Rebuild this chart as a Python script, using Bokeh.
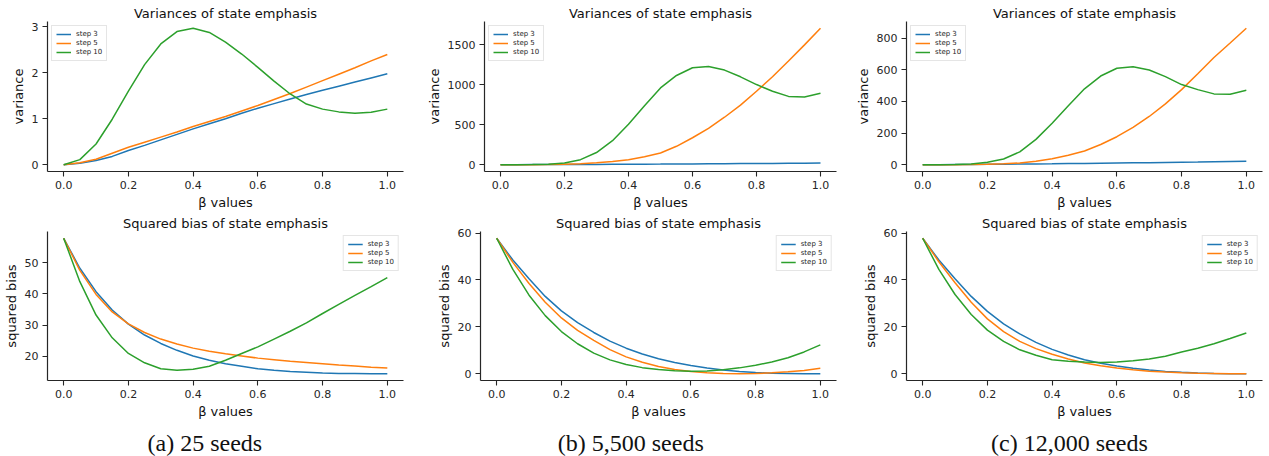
from bokeh.plotting import figure
from bokeh.layouts import column, row
from bokeh.models import Range1d, FixedTicker, NumeralTickFormatter
from bokeh.embed import file_html
from bokeh.resources import INLINE

# ---------------- data ----------------
beta = [0.0, 0.05, 0.1, 0.15, 0.2, 0.25, 0.3, 0.35, 0.4, 0.45, 0.5,
        0.55, 0.6, 0.65, 0.7, 0.75, 0.8, 0.85, 0.9, 0.95, 1.0]
series_names = ["step 3", "step 5", "step 10"]
captions = ["(a) 25 seeds", "(b) 5,500 seeds", "(c) 12,000 seeds"]

# variances, 25 seeds
var25_s3 = [0.0, 0.03, 0.09, 0.18, 0.31, 0.42, 0.54, 0.66, 0.78, 0.89, 1.0,
            1.12, 1.23, 1.33, 1.43, 1.53, 1.62, 1.71, 1.8, 1.89, 1.98]
var25_s5 = [0.0, 0.04, 0.12, 0.25, 0.38, 0.49, 0.6, 0.71, 0.83, 0.94, 1.05,
            1.17, 1.29, 1.42, 1.55, 1.69, 1.83, 1.97, 2.11, 2.26, 2.4]
var25_s10 = [0.0, 0.11, 0.45, 0.99, 1.6, 2.18, 2.63, 2.9, 2.97, 2.88, 2.67,
             2.41, 2.12, 1.82, 1.54, 1.32, 1.21, 1.15, 1.12, 1.14, 1.21]
# variances, 5,500 seeds
var5500_s3 = [0.0, 0.3, 0.8, 1.3, 2.0, 2.7, 3.5, 4.4, 5.3, 6.3, 7.3,
              8.4, 9.5, 10.7, 12.0, 13.3, 14.7, 16.1, 17.6, 19.2, 21.0]
var5500_s5 = [0.0, 0.0, 0.5, 2.0, 5.0, 12.0, 25.0, 40.0, 63.0, 100.0, 147.0,
              230.0, 337.0, 455.0, 594.0, 745.0, 919.0, 1100.0, 1298.0, 1500.0, 1707.0]
var5500_s10 = [0.0, 0.0, 1.0, 5.0, 20.0, 63.0, 152.0, 300.0, 506.0, 738.0, 961.0,
               1117.0, 1214.0, 1230.0, 1184.0, 1100.0, 1003.0, 919.0, 855.0, 847.0, 893.0]
# variances, 12,000 seeds
var12k_s3 = [0.0, 0.3, 0.8, 1.4, 2.1, 2.9, 3.8, 4.8, 5.8, 6.9, 8.0,
             9.2, 10.4, 11.7, 13.0, 14.4, 15.8, 17.3, 18.9, 20.6, 22.5]
var12k_s5 = [0.0, 0.0, 0.3, 1.0, 3.0, 6.0, 11.0, 22.0, 38.0, 60.0, 87.0,
             128.0, 177.0, 236.0, 305.0, 385.0, 475.0, 575.0, 678.0, 770.0, 863.0]
var12k_s10 = [0.0, 0.0, 1.0, 4.0, 15.0, 36.0, 81.0, 160.0, 262.0, 373.0, 480.0,
              561.0, 610.0, 620.0, 599.0, 557.0, 507.0, 475.0, 448.0, 446.0, 471.0]

# squared bias, 25 seeds
bias25_s3 = [57.8, 48.2, 40.7, 34.8, 30.3, 26.8, 24.1, 21.9, 20.1, 18.7, 17.6,
             16.8, 16.0, 15.5, 15.1, 14.9, 14.6, 14.5, 14.5, 14.4, 14.4]
bias25_s5 = [57.8, 47.5, 39.8, 34.2, 30.4, 27.6, 25.5, 23.9, 22.6, 21.6, 20.8,
             20.1, 19.4, 18.9, 18.4, 18.0, 17.6, 17.2, 16.9, 16.5, 16.2]
bias25_s10 = [57.8, 43.9, 33.2, 25.9, 20.9, 17.9, 16.0, 15.5, 15.8, 16.8, 18.7,
              20.9, 23.0, 25.5, 28.0, 30.7, 33.7, 36.6, 39.5, 42.3, 45.2]
# squared bias, 5,500 seeds
bias5500_s3 = [57.8, 48.5, 40.5, 33.0, 26.8, 21.8, 17.6, 13.9, 10.9, 8.4, 6.4,
               4.8, 3.5, 2.4, 1.6, 0.9, 0.5, 0.2, 0.1, 0.0, 0.0]
bias5500_s5 = [57.8, 47.5, 38.5, 30.5, 23.8, 18.5, 14.2, 10.3, 7.2, 4.9, 3.1,
               1.8, 0.9, 0.4, 0.1, 0.0, 0.1, 0.4, 0.8, 1.4, 2.3]
bias5500_s10 = [57.8, 44.5, 33.5, 24.8, 18.0, 12.8, 8.8, 5.9, 3.9, 2.6, 1.8,
                1.3, 1.1, 1.2, 1.7, 2.5, 3.6, 5.0, 6.8, 9.3, 12.3]
# squared bias, 12,000 seeds
bias12k_s3 = [57.8, 48.5, 40.5, 33.0, 26.6, 21.3, 17.0, 13.4, 10.4, 8.0, 6.0,
              4.5, 3.3, 2.3, 1.6, 1.0, 0.6, 0.3, 0.1, 0.0, 0.0]
bias12k_s5 = [57.8, 47.8, 38.8, 30.5, 23.4, 18.0, 13.8, 10.7, 8.3, 6.3, 4.6,
              3.4, 2.4, 1.7, 1.1, 0.7, 0.4, 0.2, 0.1, 0.0, 0.0]
bias12k_s10 = [57.8, 44.5, 33.8, 25.3, 18.6, 13.8, 10.2, 7.9, 6.0, 5.3, 5.0,
               4.8, 5.0, 5.5, 6.3, 7.5, 9.3, 10.9, 12.8, 15.0, 17.4]

x_ticks = [0.0, 0.2, 0.4, 0.6, 0.8, 1.0]
yticks_var = [[0, 1, 2, 3], [0, 500, 1000, 1500], [0, 200, 400, 600, 800]]
yticks_bias = [[20, 30, 40, 50], [0, 20, 40, 60], [0, 20, 40, 60]]

# ---------------- style ----------------
COLORS = ["#1f77b4", "#ff7f0e", "#2ca02c"]
FONT = "DejaVu Sans"
TXT = "#262626"
PANEL_W = 423
LEFT_BORDERS = [47, 57, 60]
FRAME_W = 356
FRAME_H = 150


def make_panel(col, series, yticks, title, ylabel, legend_loc, top_border, bottom_border):
    lo = min(min(s) for s in series)
    hi = max(max(s) for s in series)
    pad = (hi - lo) * 0.05
    left = LEFT_BORDERS[col]
    right = PANEL_W - left - FRAME_W
    p = figure(width=PANEL_W, height=top_border + FRAME_H + bottom_border,
               output_backend="svg", toolbar_location=None,
               x_range=Range1d(-0.05, 1.05), y_range=Range1d(lo - pad, hi + pad),
               min_border_left=left, min_border_right=right,
               min_border_top=top_border, min_border_bottom=bottom_border)
    for s, name, c in zip(series, series_names, COLORS):
        p.line(beta, s, line_color=c, line_width=1.5, legend_label=name)
    p.outline_line_color = None
    p.xgrid.visible = False
    p.ygrid.visible = False
    p.background_fill_color = "white"
    p.border_fill_color = "white"

    p.title.text = title
    p.title.align = "center"
    p.title.text_font = FONT
    p.title.text_font_size = "13px"
    p.title.text_font_style = "normal"
    p.title.text_color = "#111111"
    p.title.standoff = 2

    p.xaxis.ticker = FixedTicker(ticks=x_ticks)
    p.xaxis.formatter = NumeralTickFormatter(format="0.0")
    p.yaxis.ticker = FixedTicker(ticks=yticks)
    p.yaxis.formatter = NumeralTickFormatter(format="0")
    p.xaxis.axis_label = "β values"
    p.yaxis.axis_label = ylabel
    for ax in (p.xaxis[0], p.yaxis[0]):
        ax.axis_line_color = TXT
        ax.axis_line_width = 1.2
        ax.major_tick_line_color = TXT
        ax.major_tick_line_width = 1.1
        ax.major_tick_out = 5
        ax.major_tick_in = 0
        ax.minor_tick_line_color = None
        ax.major_label_text_font = FONT
        ax.major_label_text_font_size = "11px"
        ax.major_label_text_color = TXT
        ax.major_label_standoff = 4
        ax.axis_label_text_font = FONT
        ax.axis_label_text_font_size = "13px"
        ax.axis_label_text_font_style = "normal"
        ax.axis_label_text_color = "#111111"
        ax.axis_label_standoff = 3

    lg = p.legend[0]
    lg.location = legend_loc
    lg.label_text_font = FONT
    lg.label_text_font_size = "7px"
    lg.label_text_color = TXT
    lg.glyph_width = 15
    lg.glyph_height = 8
    lg.label_height = 8
    lg.label_standoff = 5
    lg.spacing = 1
    lg.padding = 4
    lg.margin = 4
    lg.border_line_color = "#cccccc"
    lg.border_line_width = 1
    lg.background_fill_alpha = 0.85
    return p


var_series = [[var25_s3, var25_s5, var25_s10],
              [var5500_s3, var5500_s5, var5500_s10],
              [var12k_s3, var12k_s5, var12k_s10]]
bias_series = [[bias25_s3, bias25_s5, bias25_s10],
               [bias5500_s3, bias5500_s5, bias5500_s10],
               [bias12k_s3, bias12k_s5, bias12k_s10]]

top = [make_panel(i, var_series[i], yticks_var[i], "Variances of state emphasis", "variance",
                  "top_left", 21, 41) for i in range(3)]
bottom = [make_panel(i, bias_series[i], yticks_bias[i], "Squared bias of state emphasis", "squared bias",
                     "top_right", 18, 41) for i in range(3)]

cap = figure(width=1269, height=35, output_backend="svg", toolbar_location=None,
             x_range=Range1d(0, 3), y_range=Range1d(0, 1),
             min_border_left=0, min_border_right=0, min_border_top=0, min_border_bottom=0)
cap.axis.visible = False
cap.xgrid.visible = False
cap.ygrid.visible = False
cap.outline_line_color = None
cap.text(x=[0.483, 1.49, 2.527], y=[0.4, 0.4, 0.4], text=captions,
         text_font="Liberation Serif", text_font_size="24px", text_color="#111111",
         text_align="center", text_baseline="middle")

layout = column(row(*top), row(*bottom), cap)
open("out.html", "w").write(file_html(layout, INLINE))
